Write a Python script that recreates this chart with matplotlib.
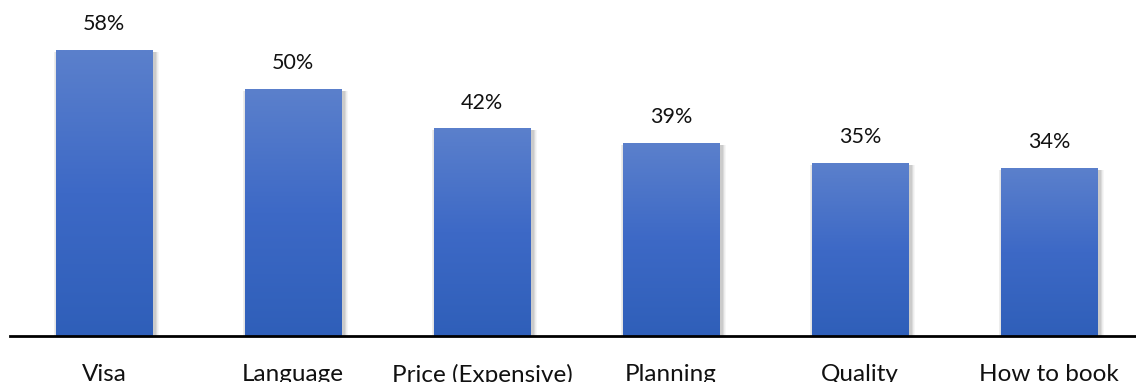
import numpy as np
import matplotlib.pyplot as plt
from matplotlib.colors import LinearSegmentedColormap
from matplotlib.patches import Rectangle

categories = ["Visa", "Language", "Price (Expensive)", "Planning", "Quality", "How to book"]
values = [58, 50, 42, 39, 35, 34]
value_labels = ["58%", "50%", "42%", "39%", "35%", "34%"]

W, H, DPI = 1136, 382, 100
fig = plt.figure(figsize=(W / DPI, H / DPI), dpi=DPI)
fig.patch.set_facecolor("white")

step_px = 189.0
left_px = 9.5
ax = fig.add_axes([left_px / W, 46 / H, (W - left_px) / W, 1 - 46 / H])
ax.set_xlim(-0.5, -0.5 + (W - left_px) / step_px)
ax.set_ylim(0, 68.15)

bar_w = 0.508
cmap = LinearSegmentedColormap.from_list("bar", ["#2f5fb9", "#3d69c6", "#5b80cc"])
grad = np.linspace(0, 1, 256).reshape(-1, 1)

# px -> data conversions for the soft drop shadow
dx = 1.0 / step_px
dy = 68.15 / (H - 46)

font = ["Lato", "DejaVu Sans"]

for i, v in enumerate(values):
    x0 = i - bar_w / 2
    # soft shadow: stacked translucent rectangles
    for k in range(6, 0, -1):
        ax.add_patch(Rectangle((x0 + 1.5 * dx - k * 0.6 * dx, -k * dy * 0.3),
                               bar_w + k * 1.2 * dx + 1.5 * dx, v + k * dy * 0.3 - 1.5 * dy,
                               facecolor="black", alpha=0.035, lw=0, zorder=1))
    ax.imshow(grad, cmap=cmap, origin="lower", aspect="auto",
              extent=[x0, x0 + bar_w, 0, v], zorder=2, interpolation="bilinear")
    ax.text(i, v + 3.3, value_labels[i], ha="center", va="bottom",
            fontsize=15.5, family=font, color="#111111")

ax.set_xlim(-0.5, -0.5 + (W - left_px) / step_px)
ax.set_ylim(0, 68.15)

for s in ["top", "right", "left"]:
    ax.spines[s].set_visible(False)
ax.spines["bottom"].set_linewidth(2.0)
ax.spines["bottom"].set_color("black")
ax.spines["bottom"].set_zorder(5)
ax.set_yticks([])
ax.set_xticks(range(len(categories)))
ax.set_xticklabels(categories, fontsize=17.5, family=font, color="#111111")
ax.tick_params(axis="x", length=0, pad=20)

fig.savefig("out.png", dpi=DPI, facecolor="white")
